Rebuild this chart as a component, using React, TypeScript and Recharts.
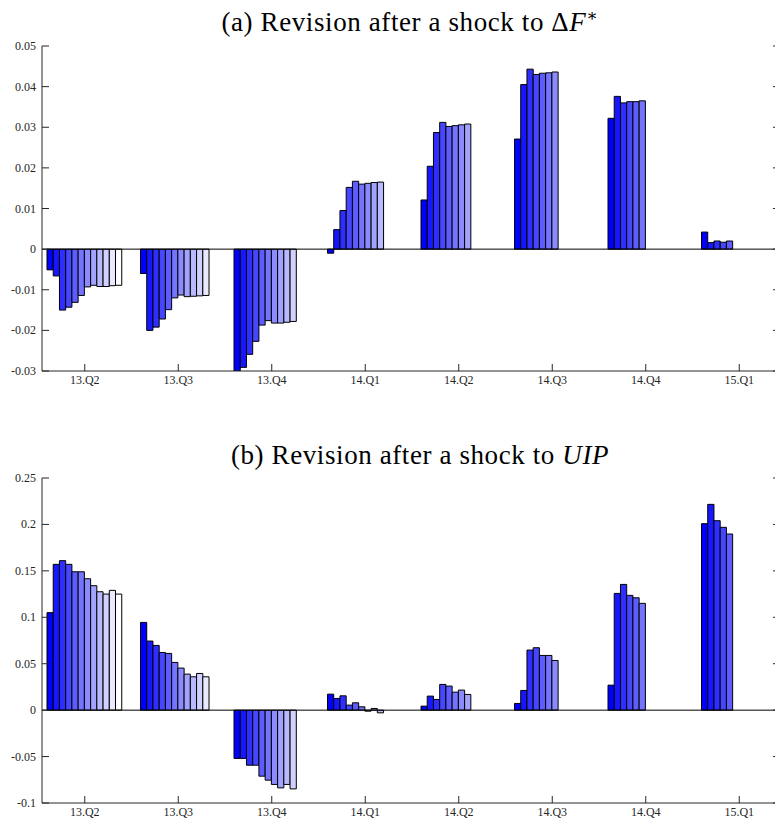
import React from 'react'
import { BarChart, Bar, XAxis, YAxis, ReferenceLine } from 'recharts'

// quarters on the x axis
const quarters = ['13.Q2', '13.Q3', '13.Q4', '14.Q1', '14.Q2', '14.Q3', '14.Q4', '15.Q1']

// (a) revision after a shock to dF*, one row per quarter, one value per vintage
const revisionF = [
  [-0.0051, -0.0066, -0.015, -0.0143, -0.0131, -0.0114, -0.0093, -0.0089, -0.0092, -0.0092, -0.009, -0.0089],
  [-0.006, -0.02, -0.0192, -0.0172, -0.0149, -0.012, -0.0113, -0.0117, -0.0116, -0.0115, -0.0114],
  [-0.03, -0.0291, -0.0259, -0.0227, -0.0187, -0.0176, -0.0182, -0.0182, -0.018, -0.0178],
  [-0.001, 0.0048, 0.0095, 0.0152, 0.0167, 0.016, 0.0162, 0.0164, 0.0165],
  [0.0121, 0.0204, 0.0287, 0.0312, 0.0302, 0.0304, 0.0306, 0.0308],
  [0.0271, 0.0405, 0.0443, 0.043, 0.0433, 0.0434, 0.0436],
  [0.0322, 0.0376, 0.036, 0.0363, 0.0363, 0.0365],
  [0.0042, 0.0016, 0.002, 0.0017, 0.002],
]

// (b) revision after a shock to UIP
const revisionUIP = [
  [0.105, 0.157, 0.161, 0.157, 0.149, 0.149, 0.1415, 0.134, 0.1275, 0.125, 0.129, 0.125],
  [0.0945, 0.0744, 0.0697, 0.0621, 0.0611, 0.0514, 0.0453, 0.0388, 0.0359, 0.0395, 0.0359],
  [-0.052, -0.052, -0.0593, -0.0593, -0.0711, -0.0754, -0.08, -0.0837, -0.08, -0.0848],
  [0.0172, 0.0126, 0.0154, 0.0054, 0.0079, 0.0036, -0.0011, 0.0018, -0.0029],
  [0.0043, 0.0151, 0.0115, 0.0277, 0.0259, 0.0194, 0.0216, 0.0169],
  [0.0072, 0.0212, 0.0647, 0.0672, 0.0589, 0.0589, 0.0535],
  [0.0269, 0.1257, 0.1354, 0.1236, 0.121, 0.115],
  [0.2008, 0.2216, 0.204, 0.1969, 0.1897],
]

const ticksF = [-0.03, -0.02, -0.01, 0, 0.01, 0.02, 0.03, 0.04, 0.05]
const ticksUIP = [-0.1, -0.05, 0, 0.05, 0.1, 0.15, 0.2, 0.25]

const FRAME = '#262626'
const FONT = "'Liberation Serif', 'DejaVu Serif', serif"
const vintageKeys = Array.from({ length: 12 }, (_, i) => `v${i}`)

// blue -> white ramp over the vintages
const vintageColor = (i: number) => {
  const c = Math.round((255 * i) / 11)
  return `rgb(${c},${c},255)`
}

const buildRows = (values: number[][]) =>
  quarters.map((q, g) => {
    const row: any = { quarter: q }
    vintageKeys.forEach((k, i) => {
      row[k] = values[g][i] ?? null
    })
    return row
  })

const fmt = (v: number) => (Math.abs(v) < 1e-9 ? '0' : String(Number(v.toFixed(2))))

const labelStyle = { fontFamily: FONT, fontSize: 12 }

// inward ticks, MATLAB style
const LeftTick = ({ x, y, payload }: any) => (
  <g>
    <line x1={x + 6} x2={x + 13} y1={y} y2={y} stroke={FRAME} />
    <text x={x} y={y} textAnchor="end" dominantBaseline="central" style={labelStyle} fill={FRAME}>
      {fmt(payload.value)}
    </text>
  </g>
)
const RightTick = ({ x, y }: any) => <line x1={x - 7} x2={x} y1={y} y2={y} stroke={FRAME} />
const BottomTick = ({ x, y, payload }: any) => (
  <g>
    <line x1={x} x2={x} y1={y - 7} y2={y} stroke={FRAME} />
    <text x={x} y={y + 9} textAnchor="middle" dominantBaseline="central" style={labelStyle} fill={FRAME}>
      {payload.value}
    </text>
  </g>
)
const TopTick = ({ x, y }: any) => <line x1={x} x2={x} y1={y} y2={y + 7} stroke={FRAME} />

interface PanelProps {
  values: number[][]
  ticks: number[]
  top: number
  height: number
  marginTop: number
  axisHeight: number
}

const Panel = ({ values, ticks, top, height, marginTop, axisHeight }: PanelProps) => {
  const data = buildRows(values)
  const domain = [ticks[0], ticks[ticks.length - 1]]
  return (
    <div style={{ position: 'absolute', left: 0, top }}>
      <BarChart
        width={800}
        height={height}
        data={data}
        margin={{ top: marginTop, right: 0, left: 0, bottom: 0 }}
        barGap={0}
        barCategoryGap="10%"
        barSize={6.23}
      >
        <XAxis
          dataKey="quarter"
          interval={0}
          height={axisHeight}
          padding={{ left: -4, right: -6 }}
          axisLine={{ stroke: FRAME }}
          tickLine={false}
          tickSize={0}
          tickMargin={0}
          tick={<BottomTick />}
        />
        <XAxis
          xAxisId="top"
          orientation="top"
          dataKey="quarter"
          interval={0}
          height={0}
          padding={{ left: -4, right: -6 }}
          axisLine={{ stroke: FRAME }}
          tickLine={false}
          tickSize={0}
          tickMargin={0}
          tick={<TopTick />}
        />
        <YAxis
          type="number"
          domain={domain}
          ticks={ticks}
          interval={0}
          allowDataOverflow
          width={42}
          axisLine={{ stroke: FRAME }}
          tickLine={false}
          tickSize={0}
          tickMargin={6}
          tick={<LeftTick />}
        />
        <YAxis
          yAxisId="right"
          orientation="right"
          type="number"
          domain={domain}
          ticks={ticks}
          interval={0}
          allowDataOverflow
          width={20}
          axisLine={{ stroke: FRAME }}
          tickLine={false}
          tickSize={0}
          tickMargin={0}
          tick={<RightTick />}
        />
        {vintageKeys.map((k, i) => (
          <Bar key={k} dataKey={k} fill={vintageColor(i)} stroke="#000" strokeWidth={1} isAnimationActive={false} />
        ))}
        <ReferenceLine y={0} stroke="#000" strokeWidth={1} />
      </BarChart>
    </div>
  )
}

const titleStyle = { fontFamily: FONT, fontSize: 27, letterSpacing: 0.6 }

export default function App() {
  return (
    <div style={{ position: 'absolute', left: 0, top: 0, width: 775, height: 822, overflow: 'hidden', background: '#fff' }}>
      <Panel values={revisionF} ticks={ticksF} top={0} height={400} marginTop={46} axisHeight={29} />
      <Panel values={revisionUIP} ticks={ticksUIP} top={400} height={422} marginTop={78} axisHeight={19} />
      <svg width={775} height={822} style={{ position: 'absolute', left: 0, top: 0, pointerEvents: 'none' }}>
        <text x={410} y={31} textAnchor="middle" style={titleStyle} fill="#000">
          <tspan>(a) Revision after a shock to Δ</tspan>
          <tspan fontStyle="italic">F</tspan>
          <tspan dy={-10} fontSize={17}>∗</tspan>
        </text>
        <text x={420} y={464} textAnchor="middle" style={titleStyle} fill="#000">
          <tspan>(b) Revision after a shock to </tspan>
          <tspan fontStyle="italic">UIP</tspan>
        </text>
      </svg>
    </div>
  )
}
